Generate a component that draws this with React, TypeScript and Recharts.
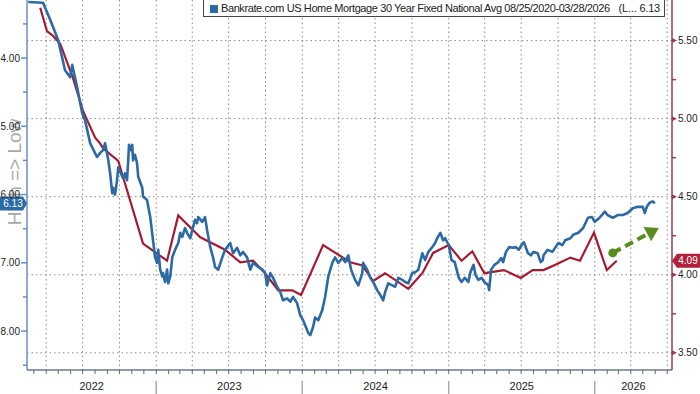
import { ComposedChart, Line, XAxis, YAxis, CartesianGrid, ReferenceLine, ReferenceDot } from 'recharts'

// Bankrate.com 30y fixed national avg (left axis, inverted)
const mortgageDates = [
  // 2022
  '2022-02-15', '2022-03-24', '2022-04-11', '2022-05-01', '2022-05-18', '2022-05-31', '2022-06-05', '2022-06-17',
  '2022-06-30', '2022-07-07', '2022-07-20', '2022-08-06', '2022-08-14', '2022-08-21', '2022-08-26', '2022-09-03',
  '2022-09-08', '2022-09-13', '2022-09-15', '2022-09-20', '2022-09-25', '2022-09-28', '2022-10-03', '2022-10-10',
  '2022-10-15', '2022-10-20', '2022-10-23', '2022-10-25', '2022-10-30', '2022-11-02', '2022-11-04', '2022-11-09',
  '2022-11-14', '2022-11-17', '2022-11-27', '2022-11-29', '2022-12-09', '2022-12-17', '2022-12-24', '2022-12-29',
  // 2023
  '2023-01-03', '2023-01-06', '2023-01-11', '2023-01-16', '2023-01-18', '2023-01-23', '2023-01-28', '2023-01-31',
  '2023-02-05', '2023-02-10', '2023-02-17', '2023-02-25', '2023-03-02', '2023-03-07', '2023-03-14', '2023-03-19',
  '2023-03-27', '2023-04-01', '2023-04-08', '2023-04-13', '2023-04-16', '2023-04-26', '2023-05-03', '2023-05-08',
  '2023-05-16', '2023-05-23', '2023-05-28', '2023-06-05', '2023-06-15', '2023-06-22', '2023-07-05', '2023-07-12',
  '2023-07-22', '2023-07-30', '2023-08-06', '2023-08-16', '2023-08-24', '2023-08-31', '2023-09-13', '2023-09-23',
  '2023-09-30', '2023-10-05', '2023-10-13', '2023-10-20', '2023-10-30', '2023-11-07', '2023-11-14', '2023-11-24',
  '2023-12-02', '2023-12-09', '2023-12-19', '2023-12-27',
  // 2024
  '2024-01-03', '2024-01-08', '2024-01-16', '2024-01-21', '2024-01-28', '2024-02-02', '2024-02-10', '2024-02-20',
  '2024-02-27', '2024-03-06', '2024-03-16', '2024-03-23', '2024-03-31', '2024-04-10', '2024-04-17', '2024-04-25',
  '2024-05-02', '2024-05-12', '2024-05-20', '2024-05-30', '2024-06-01', '2024-06-11', '2024-06-19', '2024-06-26',
  '2024-07-06', '2024-07-14', '2024-07-21', '2024-07-26', '2024-08-03', '2024-08-13', '2024-08-20', '2024-08-28',
  '2024-09-07', '2024-09-14', '2024-09-22', '2024-10-02', '2024-10-09', '2024-10-17', '2024-10-27', '2024-11-03',
  '2024-11-11', '2024-11-21', '2024-11-28', '2024-12-03', '2024-12-11', '2024-12-18', '2024-12-23',
  // 2025
  '2025-01-01', '2025-01-08', '2025-01-16', '2025-01-26', '2025-02-02', '2025-02-10', '2025-02-19', '2025-02-24',
  '2025-03-04', '2025-03-09', '2025-03-16', '2025-03-24', '2025-03-31', '2025-04-10', '2025-04-12', '2025-04-17',
  '2025-04-25', '2025-05-05', '2025-05-12', '2025-05-17', '2025-05-24', '2025-06-01', '2025-06-11', '2025-06-18',
  '2025-06-25', '2025-07-05', '2025-07-08', '2025-07-18', '2025-07-25', '2025-08-01', '2025-08-11', '2025-08-19',
  '2025-08-24', '2025-08-26', '2025-09-05', '2025-09-17', '2025-09-25', '2025-10-02', '2025-10-12', '2025-10-19',
  '2025-11-01', '2025-11-08', '2025-11-21', '2025-12-03', '2025-12-15', '2025-12-25',
  // 2026
  '2026-01-01', '2026-01-13', '2026-01-26', '2026-02-02', '2026-02-15', '2026-02-27', '2026-03-12', '2026-03-24',
  '2026-04-06', '2026-04-18', '2026-05-01', '2026-05-06', '2026-05-11', '2026-05-18', '2026-05-26', '2026-05-31',
]
const mortgageRates = [
  // 2022
  3.18, 3.19, 3.44, 3.74, 4.18, 4.28, 4.10, 4.42,
  4.81, 4.91, 5.25, 5.45, 5.39, 5.35, 5.25, 5.49,
  5.70, 5.98, 5.90, 6.00, 5.79, 5.60, 5.67, 5.76,
  5.69, 5.79, 5.50, 5.27, 5.35, 5.27, 5.50, 5.42,
  5.54, 5.74, 5.90, 6.03, 6.08, 6.33, 6.67, 6.92,
  // 2023
  7.00, 6.81, 7.10, 7.20, 7.15, 7.28, 7.10, 7.30,
  7.20, 6.92, 6.81, 6.71, 6.56, 6.62, 6.49, 6.56,
  6.64, 6.52, 6.37, 6.42, 6.33, 6.40, 6.33, 6.52,
  6.77, 6.92, 7.06, 7.10, 6.92, 6.81, 6.71, 6.86,
  6.78, 6.89, 6.84, 6.92, 7.10, 7.00, 7.06, 7.10,
  7.15, 7.33, 7.15, 7.22, 7.35, 7.43, 7.55, 7.52,
  7.57, 7.50, 7.59, 7.77,
  // 2024
  7.84, 7.91, 8.03, 8.06, 7.94, 7.80, 7.84, 7.69,
  7.50, 7.20, 7.00, 6.92, 7.00, 6.93, 6.99, 6.89,
  7.10, 7.25, 7.33, 7.15, 7.00, 7.10, 7.22, 7.28,
  7.40, 7.47, 7.55, 7.43, 7.30, 7.33, 7.35, 7.22,
  7.25, 7.28, 7.30, 7.15, 7.14, 7.10, 6.86, 6.96,
  6.84, 6.77, 6.71, 6.64, 6.56, 6.67, 6.64,
  // 2025
  6.74, 6.96, 6.99, 7.22, 7.28, 7.22, 7.28, 7.14,
  7.03, 7.18, 7.25, 7.22, 7.28, 7.33, 7.40, 7.10,
  7.03, 6.99, 6.93, 6.99, 6.84, 6.77, 6.78, 6.77,
  6.81, 6.71, 6.70, 6.86, 6.89, 6.84, 6.86, 6.99,
  6.96, 6.89, 6.81, 6.84, 6.77, 6.71, 6.74, 6.67,
  6.64, 6.59, 6.56, 6.49, 6.34, 6.33,
  // 2026
  6.40, 6.34, 6.25, 6.30, 6.34, 6.30, 6.30, 6.27,
  6.20, 6.18, 6.18, 6.27, 6.18, 6.12, 6.10, 6.13,
]

// red series, right axis
const redDates = [
  '2022-03-17', '2022-04-03', '2022-04-18', '2022-05-06', '2022-06-07', '2022-07-02', '2022-08-01', '2022-08-14',
  '2022-08-21', '2022-09-28', '2022-11-29',
  '2023-01-28', '2023-02-25', '2023-04-21', '2023-06-22', '2023-07-30', '2023-08-31', '2023-09-30', '2023-11-02',
  '2023-12-07', '2023-12-29',
  '2024-02-22', '2024-04-30', '2024-05-30', '2024-06-26', '2024-07-26', '2024-09-22', '2024-10-27', '2024-11-23',
  '2025-01-01', '2025-02-02', '2025-03-01', '2025-03-31', '2025-05-19', '2025-06-30', '2025-07-30', '2025-08-26',
  '2025-09-30', '2025-11-01', '2025-11-25', '2025-12-30',
  '2026-01-31', '2026-02-25',
]
const redValues = [
  5.71, 5.56, 5.53, 5.48, 5.26, 5.05, 4.88, 4.84,
  4.81, 4.73, 4.20,
  4.09, 4.38, 4.24, 4.16, 4.08, 4.09, 4.01, 3.90,
  3.90, 3.87,
  4.19, 4.08, 4.06, 3.96, 4.01, 3.91, 4.01, 4.14,
  4.19, 4.09, 4.15, 4.01, 4.03, 3.98, 4.03, 4.03,
  4.07, 4.11, 4.09, 4.27,
  4.03, 4.09,
]

const yearLabels = ['2022', '2023', '2024', '2025', '2026']
const arrowFrom = { date: '2026-02-15', value: 4.14 }
const arrowTo = { date: '2026-06-10', value: 4.3 }
const redLast = 4.09

const day = (s: string) => Date.parse(s + 'T00:00:00Z')

const X_MIN = day('2022-02-12')
const X_MAX = day('2026-07-13')

const mortgageData = mortgageDates.map((d, i) => ({ t: day(d), v: mortgageRates[i] }))
const redData = redDates.map((d, i) => ({ t: day(d), v: redValues[i] }))

const monthTicks: number[] = []
const quarterLines: number[] = []
for (let y = 2022; y <= 2026; y++) {
  for (let m = 0; m < 12; m++) {
    const t = Date.UTC(y, m, 1)
    if (t < X_MIN || t > X_MAX) continue
    monthTicks.push(t)
    if (m % 3 === 0) quarterLines.push(t)
  }
}
// year labels sit in the middle of the visible part of each year
const labelTicks = yearLabels.map((y) => {
  const a = Math.max(Date.UTC(+y, 0, 1), X_MIN)
  const b = Math.min(Date.UTC(+y + 1, 0, 1), X_MAX)
  return Math.round((a + b) / 2) + 3600000
})

const FONT = "'Liberation Sans', Arial, sans-serif"
const BLUE = '#2c6aa6'
const RED = '#a71a31'
const LEFT_AXIS = '#6a8fbd'
const RIGHT_AXIS = '#9b3a58'

const XTick = (props: any) => {
  const { x, y, payload } = props
  const li = labelTicks.indexOf(payload.value)
  if (li >= 0) {
    return (
      <text x={x} y={y + 20} textAnchor="middle" fontSize={11} fontFamily={FONT} fill="#222">
        {yearLabels[li]}
      </text>
    )
  }
  const jan = new Date(payload.value).getUTCMonth() === 0
  return (
    <g>
      <line x1={x} x2={x} y1={y} y2={y + 4} stroke="#666" />
      {jan && <line x1={x} x2={x} y1={y + 11} y2={y + 24} stroke="#aaa" strokeWidth={1.5} />}
    </g>
  )
}

const LeftTick = (props: any) => {
  const { x, y, payload } = props
  const major = Number.isInteger(payload.value)
  return (
    <g>
      <line x1={x - (major ? 6 : 4)} x2={x} y1={y} y2={y} stroke={LEFT_AXIS} strokeWidth={1.5} />
      {major && (
        <text x={x - 7} y={y + 3.5} textAnchor="end" fontSize={10} fontFamily={FONT} fill="#222">
          {payload.value.toFixed(2)}
        </text>
      )}
    </g>
  )
}

const RightTick = (props: any) => {
  const { x, y, payload } = props
  const major = Number.isInteger(payload.value * 2)
  if (!major) return <line x1={x} x2={x + 4} y1={y} y2={y} stroke={RIGHT_AXIS} strokeWidth={1.5} />
  return (
    <g>
      <path d={`M${x} ${y - 2.5} L${x + 5} ${y} L${x} ${y + 2.5} Z`} fill={RIGHT_AXIS} />
      <text x={x + 6} y={y + 3.5} textAnchor="start" fontSize={10} fontFamily={FONT} fill="#222">
        {payload.value.toFixed(2)}
      </text>
    </g>
  )
}

const AxisTitle = () => (
  <text
    x={21}
    y={172}
    transform="rotate(-90, 21, 172)"
    textAnchor="middle"
    fontSize={19}
    fontFamily={FONT}
    fill="#a8a8a8"
  >
    {'High => Low'}
  </text>
)

const LeftValueTag = (props: any) => {
  const { cx, cy } = props
  return (
    <g>
      <path
        d={`M${cx - 27} ${cy - 7} L${cx - 4} ${cy - 7} L${cx} ${cy} L${cx - 4} ${cy + 7} L${cx - 27} ${cy + 7} Z`}
        fill={BLUE}
      />
      <text x={cx - 14} y={cy + 3.5} textAnchor="middle" fontSize={10} fontFamily={FONT} fill="#fff">
        {mortgageRates[mortgageRates.length - 1].toFixed(2)}
      </text>
    </g>
  )
}

const RightValueTag = (props: any) => {
  const { cx, cy } = props
  return (
    <g>
      <path
        d={`M${cx} ${cy} L${cx + 5} ${cy - 7} L${cx + 28} ${cy - 7} L${cx + 28} ${cy + 7} L${cx + 5} ${cy + 7} Z`}
        fill="#b3213a"
      />
      <text x={cx + 16} y={cy + 3.5} textAnchor="middle" fontSize={10} fontFamily={FONT} fill="#fff">
        {redLast.toFixed(2)}
      </text>
    </g>
  )
}

const TrendArrow = (props: any) => {
  const { x1, y1, x2, y2 } = props
  const dx = x2 - x1
  const dy = y2 - y1
  const len = Math.sqrt(dx * dx + dy * dy)
  const ux = dx / len
  const uy = dy / len
  const hl = 13
  const hw = 8
  const bx = x2 - ux * hl
  const by = y2 - uy * hl
  const green = '#5b8c1f'
  return (
    <g>
      <line x1={x1} y1={y1} x2={bx} y2={by} stroke={green} strokeWidth={4} strokeDasharray="9 5" />
      <circle cx={x1} cy={y1} r={4.5} fill={green} />
      <path d={`M${x2} ${y2} L${bx - uy * hw} ${by + ux * hw} L${bx + uy * hw} ${by - ux * hw} Z`} fill={green} />
    </g>
  )
}

export default function App() {
  return (
    <div style={{ position: 'fixed', left: 0, top: 0, width: 700, height: 394, background: '#fff', overflow: 'hidden' }}>
      <ComposedChart width={700} height={394} margin={{ top: 0, right: 0, bottom: 0, left: 0 }}>
        <CartesianGrid
          yAxisId="right"
          stroke="#8a8a8a"
          strokeDasharray="1.5 3"
          horizontalValues={[3.5, 4, 4.5, 5, 5.5]}
          verticalValues={quarterLines}
        />
        <XAxis
          dataKey="t"
          type="number"
          domain={[X_MIN, X_MAX]}
          allowDataOverflow
          ticks={[...monthTicks, ...labelTicks]}
          interval={0}
          tick={<XTick />}
          tickLine={false}
          tickSize={0}
          tickMargin={0}
          height={24}
          axisLine={{ stroke: '#6b7a90', strokeWidth: 1.5 }}
        />
        <YAxis
          yAxisId="left"
          orientation="left"
          width={27}
          type="number"
          domain={[3.15, 8.57]}
          reversed
          allowDataOverflow
          ticks={[3.5, 4, 4.5, 5, 5.5, 6, 6.5, 7, 7.5, 8, 8.5]}
          interval={0}
          tick={<LeftTick />}
          tickLine={false}
          tickSize={0}
          tickMargin={0}
          axisLine={{ stroke: LEFT_AXIS, strokeWidth: 1.5 }}
          label={<AxisTitle />}
        />
        <YAxis
          yAxisId="right"
          orientation="right"
          width={28}
          type="number"
          domain={[3.39, 5.76]}
          allowDataOverflow
          ticks={[3.5, 3.75, 4, 4.25, 4.5, 4.75, 5, 5.25, 5.5]}
          interval={0}
          tick={<RightTick />}
          tickLine={false}
          tickSize={0}
          tickMargin={0}
          axisLine={{ stroke: RIGHT_AXIS, strokeWidth: 1.5 }}
        />
        <Line
          yAxisId="right"
          data={redData}
          dataKey="v"
          type="linear"
          stroke={RED}
          strokeWidth={2.2}
          dot={false}
          isAnimationActive={false}
        />
        <Line
          yAxisId="left"
          data={mortgageData}
          dataKey="v"
          type="linear"
          stroke={BLUE}
          strokeWidth={2.6}
          strokeLinejoin="round"
          dot={false}
          isAnimationActive={false}
        />
        <ReferenceLine
          yAxisId="right"
          segment={[
            { x: day(arrowFrom.date), y: arrowFrom.value },
            { x: day(arrowTo.date), y: arrowTo.value },
          ]}
          ifOverflow="visible"
          shape={<TrendArrow />}
        />
        <ReferenceDot
          yAxisId="left"
          x={X_MIN}
          y={mortgageRates[mortgageRates.length - 1]}
          ifOverflow="visible"
          shape={<LeftValueTag />}
        />
        <ReferenceDot yAxisId="right" x={X_MAX} y={redLast} ifOverflow="visible" shape={<RightValueTag />} />
      </ComposedChart>
      <div
        style={{
          position: 'absolute',
          left: 203,
          top: -4,
          width: 462,
          height: 21,
          border: '1px solid #444',
          background: '#fff',
          boxSizing: 'border-box',
          fontFamily: FONT,
          fontSize: 11,
          color: '#222',
          whiteSpace: 'nowrap',
        }}
      >
        <span style={{ position: 'absolute', left: 6, top: 8, width: 8, height: 8, background: BLUE }} />
        <span style={{ position: 'absolute', left: 17, top: 5, lineHeight: '13px', letterSpacing: '-0.4px' }}>
          Bankrate.com US Home Mortgage 30 Year Fixed National Avg 08/25/2020-03/28/2026
        </span>
        <span style={{ position: 'absolute', right: 4, top: 5, lineHeight: '13px', letterSpacing: '-0.2px' }}>
          (L... 6.13
        </span>
      </div>
    </div>
  )
}
